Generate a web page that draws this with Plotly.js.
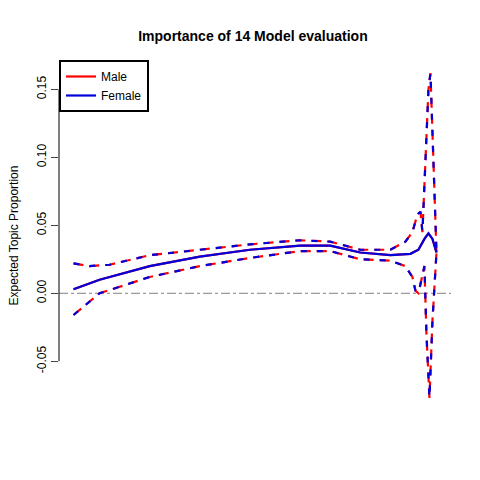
<!DOCTYPE html>
<html>
<head>
<script src="https://cdn.plot.ly/plotly-3.0.1.min.js"></script>
<style>body{margin:0;}</style>
</head>
<body>
<div id="chart" style="width:480px;height:480px;"></div>
<script>
// covariate positions (pixel columns)
var meanX = [74, 100, 150, 200, 250, 300, 330, 360, 390, 410, 418, 424, 428, 432, 436];
var meanY = [0.003, 0.010, 0.020, 0.027, 0.032, 0.035, 0.035, 0.030, 0.028, 0.029, 0.032, 0.040, 0.044, 0.040, 0.030];
var upperX = [74, 90, 110, 150, 200, 250, 300, 330, 360, 390, 405, 412, 417, 420, 422, 425, 428, 430, 433, 436];
var upperY = [0.022, 0.020, 0.021, 0.028, 0.032, 0.036, 0.039, 0.038, 0.032, 0.032, 0.038, 0.045, 0.058, 0.060, 0.045, 0.100, 0.150, 0.162, 0.100, 0.030];
var lowerX = [74, 90, 100, 150, 200, 250, 300, 330, 360, 390, 405, 412, 415, 418, 421, 424, 426, 429, 432, 436];
var lowerY = [-0.016, -0.006, 0.000, 0.012, 0.020, 0.026, 0.031, 0.031, 0.025, 0.024, 0.020, 0.012, 0.002, 0.000, 0.010, 0.020, -0.030, -0.077, -0.020, 0.030];
var yTicks = [-0.05, 0.00, 0.05, 0.10, 0.15];
var yTickText = ["-0.05", "0.00", "0.05", "0.10", "0.15"];

var toX = function (arr) { return arr.map(function (p) { return (p - 74) / 362; }); };

function line(x, y, color, dash, name, show) {
  return { x: toX(x), y: y, type: "scatter", mode: "lines", name: name, showlegend: show,
    line: { color: color, width: 2.2, dash: dash } };
}

var traces = [
  line(meanX, meanY, "red", "solid", "Male", true),
  line(upperX, upperY, "red", "10px,6px", "Male", false),
  line(lowerX, lowerY, "red", "10px,6px", "Male", false),
  line(meanX, meanY, "#0000dd", "solid", "Female", true),
  line(upperX, upperY, "#0000dd", "6px,10px", "Female", false),
  line(lowerX, lowerY, "#0000dd", "6px,10px", "Female", false)
];

var layout = {
  width: 480, height: 480,
  margin: { l: 59, r: 29, t: 60, b: 69 },
  paper_bgcolor: "white", plot_bgcolor: "white",
  font: { family: "Liberation Sans, Arial", size: 12, color: "black" },
  title: { text: "<b>Importance of 14 Model evaluation</b>", x: 0.527, y: 0.935, font: { size: 14 } },
  xaxis: { range: [-0.04, 1.04], visible: false, showgrid: false, zeroline: false },
  yaxis: {
    range: [-0.0866, 0.1716], showgrid: false, zeroline: false, showline: false,
    tickvals: yTicks, ticktext: yTickText, ticks: "outside", ticklen: 7, tickangle: -90,
    title: { text: "Expected Topic Proportion", standoff: 14, font: { size: 12 } }
  },
  showlegend: true,
  legend: { x: 0, y: 1, xanchor: "left", yanchor: "top", bordercolor: "black", borderwidth: 2,
    bgcolor: "white", font: { size: 12 }, tracegroupgap: 0 },
  shapes: [
    { type: "line", xref: "paper", yref: "y", x0: 0, x1: 0, y0: -0.05, y1: 0.15, line: { color: "black", width: 1 } },
    { type: "line", xref: "paper", yref: "y", x0: 0, x1: 1, y0: 0, y1: 0, layer: "below", line: { color: "gray", width: 1, dash: "dashdot" } }
  ]
};

Plotly.newPlot("chart", traces, layout, { staticPlot: true });
</script>
</body>
</html>
